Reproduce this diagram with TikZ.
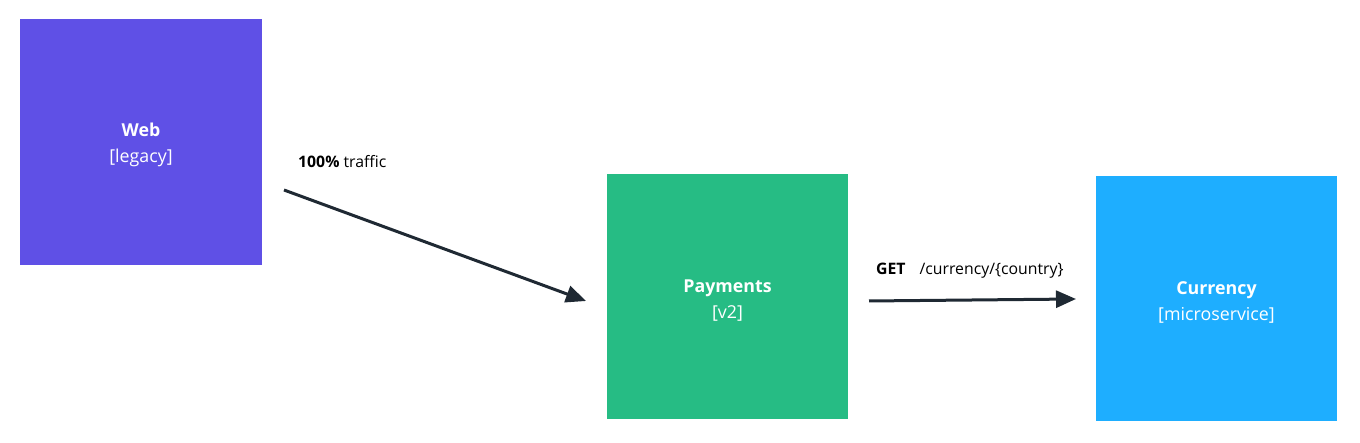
\documentclass[tikz,border=0pt]{standalone}
\usepackage{fontspec}
\setmainfont{Open Sans}
\usetikzlibrary{arrows.meta,calc}
\definecolor{webc}{HTML}{5F50E6}
\definecolor{payc}{HTML}{26BC84}
\definecolor{curc}{HTML}{1EAEFF}
\definecolor{linec}{HTML}{1F2933}
\newcommand{\boxstrut}{\rule{0pt}{20pt}}
\tikzset{
  box/.style={rectangle, inner sep=0pt, text=white, align=center, font=\fontsize{17.8}{26}\selectfont},
  conn/.style={draw=linec, line width=3pt, -{Triangle[length=20pt,width=17pt]}},
  lbl/.style={inner sep=0pt, anchor=west, font=\fontsize{15.8}{19}\selectfont, text=black}
}
\begin{document}
\begin{tikzpicture}[x=1pt,y=1pt]
\useasboundingbox (0,0) rectangle (1360,443);
\node[box, fill=webc, minimum width=242pt, minimum height=246pt] (web) at (141,301) {\boxstrut\textbf{Web}\\{}[legacy]};
\node[box, fill=payc, minimum width=241pt, minimum height=245pt] (pay) at (727.5,146.5) {\boxstrut\textbf{Payments}\\{}[v2]};
\node[box, fill=curc, minimum width=241pt, minimum height=245pt] (cur) at (1216.5,144.5) {\boxstrut\textbf{Currency}\\{}[microservice]};
\coordinate (a1s) at (284,253);
\coordinate (a1e) at (586,142);
\coordinate (a2s) at (869,142);
\coordinate (a2e) at (1076,144);
\draw[conn] (a1s) -- (a1e);
\draw[conn] (a2s) -- (a2e);
\node[lbl] (l1) at (298,281) {\textbf{100\%} traffic};
\node[lbl] (l2) at (876,172) {\textbf{GET}\hspace{14pt}/currency/\{country\}};
\end{tikzpicture}
\end{document}
